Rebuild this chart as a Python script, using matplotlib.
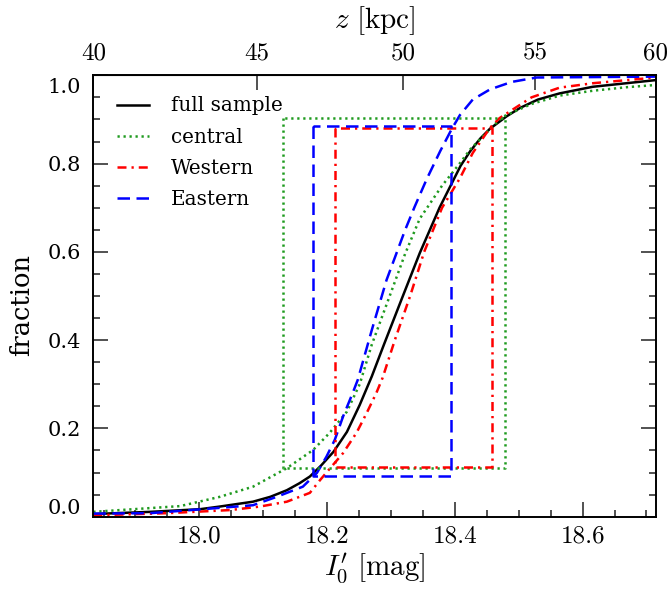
import numpy as np
import matplotlib
matplotlib.use("Agg")
import matplotlib.pyplot as plt
from matplotlib.transforms import ScaledTranslation

plt.rcParams['mathtext.fontset'] = 'cm'
plt.rcParams['font.family'] = ['DejaVu Serif']

# ---------------- data ----------------
full_x = [17.834, 17.923, 18.001, 18.032, 18.084, 18.111, 18.137, 18.157, 18.173, 18.190,
          18.210, 18.231, 18.251, 18.270, 18.289, 18.317, 18.345, 18.376, 18.409, 18.424,
          18.440, 18.455, 18.481, 18.502, 18.530, 18.564, 18.616, 18.714]
full_y = [0.006, 0.011, 0.017, 0.023, 0.034, 0.045, 0.060, 0.076, 0.091, 0.115,
          0.147, 0.192, 0.253, 0.318, 0.390, 0.494, 0.597, 0.700, 0.795, 0.828,
          0.857, 0.879, 0.907, 0.926, 0.945, 0.959, 0.974, 0.989]

central_x = [17.834, 17.970, 18.032, 18.084, 18.137, 18.178, 18.204, 18.231, 18.251, 18.270,
             18.298, 18.322, 18.345, 18.380, 18.408, 18.424, 18.459, 18.475, 18.520, 18.564,
             18.616, 18.669, 18.714]
central_y = [0.011, 0.024, 0.045, 0.068, 0.110, 0.151, 0.190, 0.238, 0.300, 0.390,
             0.500, 0.595, 0.675, 0.750, 0.801, 0.832, 0.884, 0.906, 0.935, 0.954,
             0.965, 0.973, 0.978]

western_x = [17.834, 17.950, 18.048, 18.095, 18.137, 18.173, 18.189, 18.209, 18.225, 18.246,
             18.262, 18.277, 18.287, 18.306, 18.330, 18.352, 18.380, 18.408, 18.428, 18.455,
             18.470, 18.520, 18.564, 18.616, 18.669, 18.714]
western_y = [0.003, 0.008, 0.015, 0.023, 0.034, 0.054, 0.083, 0.117, 0.144, 0.190,
             0.235, 0.280, 0.315, 0.400, 0.500, 0.600, 0.700, 0.767, 0.824, 0.881,
             0.903, 0.950, 0.972, 0.982, 0.989, 0.995]

eastern_x = [17.834, 17.923, 18.032, 18.084, 18.121, 18.162, 18.184, 18.199, 18.212, 18.225,
             18.240, 18.248, 18.270, 18.293, 18.322, 18.337, 18.356, 18.377, 18.395, 18.408,
             18.428, 18.455, 18.489, 18.528, 18.714]
eastern_y = [0.007, 0.008, 0.020, 0.026, 0.045, 0.068, 0.099, 0.136, 0.174, 0.227,
             0.280, 0.310, 0.423, 0.536, 0.649, 0.702, 0.765, 0.828, 0.878, 0.910,
             0.945, 0.968, 0.985, 0.995, 0.997]

# 10%-90% boxes: (x_low, x_high, y_low, y_high)
central_box = (18.131, 18.479, 0.110, 0.903)
western_box = (18.212, 18.458, 0.113, 0.880)
eastern_box = (18.178, 18.394, 0.093, 0.886)

labels = ['full sample', 'central', 'Western', 'Eastern']
colors = ['black', '#1f9a1f', '#ff0000', '#0000ff']

# top axis: distance scale, reference magnitude at 40 kpc
z_ref_kpc = 40.0
mag_at_ref = 17.834
z_ticks = [40, 45, 50, 55, 60]
x_major = [18.0, 18.2, 18.4, 18.6]
y_major = [0.0, 0.2, 0.4, 0.6, 0.8, 1.0]


def m2z(m):
    return z_ref_kpc * 10 ** ((np.asarray(m) - mag_at_ref) / 5.0)


def z2m(z):
    z = np.clip(np.asarray(z, dtype=float), 1e-6, None)
    return mag_at_ref + 5.0 * np.log10(z / z_ref_kpc)


# ---------------- figure ----------------
fig = plt.figure(figsize=(6.68, 5.99), dpi=100)
ax = fig.add_axes([0.1397, 0.1374, 0.8419, 0.7369])

lw = 1.8
ls_c = (0, (0.9, 1.5))
ls_w = (0, (3.6, 2.0, 0.9, 2.0))
ls_e = (0, (5.0, 2.6))
ax.plot(full_x, full_y, color=colors[0], lw=lw, ls='-', label=labels[0])
ax.plot(central_x, central_y, color=colors[1], lw=lw, ls=ls_c, label=labels[1])
ax.plot(western_x, western_y, color=colors[2], lw=lw, ls=ls_w, label=labels[2])
ax.plot(eastern_x, eastern_y, color=colors[3], lw=lw, ls=ls_e, label=labels[3])


def draw_box(b, color, ls):
    x0, x1, y0, y1 = b
    ax.plot([x0, x0, x1, x1, x0], [y1, y0, y0, y1, y1], color=color, lw=lw, ls=ls)


draw_box(central_box, colors[1], ls_c)
draw_box(western_box, colors[2], ls_w)
draw_box(eastern_box, colors[3], ls_e)

ax.set_xlim(mag_at_ref, float(z2m(60.0)) + 1e-6)
ax.set_ylim(0.0, 1.0)

ax.set_xticks(x_major)
ax.set_xticklabels([f'{v:.1f}' for v in x_major])
ax.set_xticks(np.arange(17.85, 18.72, 0.05), minor=True)
ax.set_yticks(y_major)
ax.set_yticklabels([f'{v:.1f}' for v in y_major])
ax.set_yticks(np.arange(0, 1.001, 0.05), minor=True)

ax.tick_params(which='both', direction='in', top=False, right=True, width=1.2, color='#333333')
ax.tick_params(which='major', length=11)
ax.tick_params(which='minor', length=5)
ax.tick_params(axis='x', which='major', labelsize=18, labelfontfamily='cmr10', pad=6)
ax.tick_params(axis='y', which='major', labelsize=15, pad=9)
for s in ax.spines.values():
    s.set_linewidth(1.4)

ax.set_xlabel(r"$I_0'\ [\mathrm{mag}]$", fontsize=21, labelpad=3)
ax.set_ylabel('fraction', fontsize=18.5)
ax.yaxis.set_label_coords(-0.106, 0.48)

sec = ax.secondary_xaxis('top', functions=(m2z, z2m))
sec.set_xticks(z_ticks)
sec.set_xticklabels([str(v) for v in z_ticks])
sec.xaxis.set_minor_locator(matplotlib.ticker.NullLocator())
sec.tick_params(direction='in', length=11, width=1.2, pad=8, color='#333333',
                labelsize=18, labelfontfamily='cmr10')
sec.set_xlabel(r"$z\ [\mathrm{kpc}]$", fontsize=21, labelpad=10)

leg = ax.legend(loc='upper left', bbox_to_anchor=(0.042, 0.952), frameon=False, fontsize=14.3,
                handlelength=1.6, handletextpad=1.1, labelspacing=0.62,
                borderpad=0.0, borderaxespad=0.0)

# end labels of the y axis sit inside the frame (as in the reference)
yt = ax.yaxis.get_major_ticks()
yt[0].label1.set_transform(yt[0].label1.get_transform()
                           + ScaledTranslation(0, 10 / 100, fig.dpi_scale_trans))
yt[-1].label1.set_transform(yt[-1].label1.get_transform()
                            + ScaledTranslation(0, -10 / 100, fig.dpi_scale_trans))

fig.savefig('out.png', dpi=100)
